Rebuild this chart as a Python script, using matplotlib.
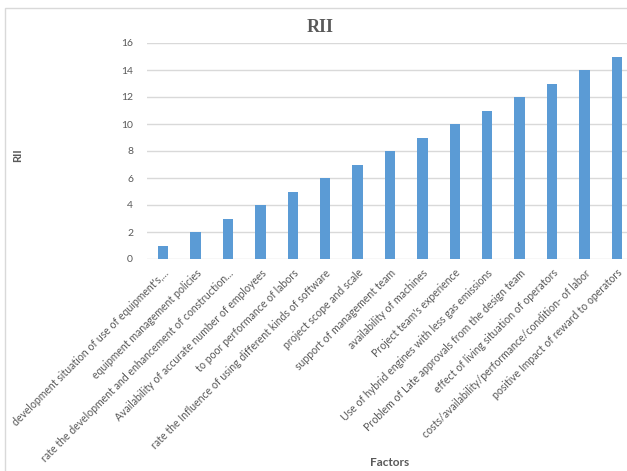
import matplotlib
matplotlib.use("Agg")
import matplotlib.pyplot as plt
from matplotlib.patches import Rectangle

factors = [
    "development situation of use of equipment's,...",
    "equipment management policies",
    "rate the development and enhancement of construction...",
    "Availability of accurate number of employees",
    "to poor performance of labors",
    "rate the Influence of using different kinds of software",
    "project scope and scale",
    "support of management team",
    "availability of machines",
    "Project team's experience",
    "Use of hybrid engines with less gas emissions",
    "Problem of Late approvals from the design team",
    "effect of living situation of operators",
    "costs/availability/performance/condition- of labor",
    "positive Impact of reward to operators",
]
rii = [1, 2, 3, 4, 5, 6, 7, 8, 9, 10, 11, 12, 13, 14, 15]
yticks = [0, 2, 4, 6, 8, 10, 12, 14, 16]

W, H = 627, 471
fig = plt.figure(figsize=(W / 100, H / 100), dpi=100)
fig.patch.set_facecolor("white")

# chart frame
fig.patches.append(Rectangle((5 / W, -0.01), 1.0, 1 - 8 / H + 0.01,
                             transform=fig.transFigure, fill=False,
                             edgecolor="#D9D9D9", lw=1.0))

ax = fig.add_axes([147 / W, 1 - 259 / H, (633 - 147) / W, (259 - 43) / H])
x = range(len(factors))
ax.bar(x, rii, width=0.32, color="#5B9BD5", zorder=3)
ax.set_xlim(-0.5, len(factors) - 0.5)
ax.set_ylim(0, 16)
ax.set_yticks(yticks)
ax.set_yticklabels([str(v) for v in yticks], fontsize=7.5, color="#595959",
                   family="Lato")
ax.set_xticks(list(x))
ax.set_xticklabels(factors, rotation=45, ha="right", rotation_mode="anchor",
                   fontsize=7.6, color="#595959", family="Lato")
ax.tick_params(axis="both", length=0)
ax.tick_params(axis="y", pad=10)
ax.tick_params(axis="x", pad=6)
for s in ax.spines.values():
    s.set_visible(False)
ax.grid(axis="y", color="#D9D9D9", lw=1.0, zorder=0)
ax.set_axisbelow(True)

fig.text(320 / W, 1 - 28 / H, "RII", ha="center", va="center",
         fontsize=13, fontweight="bold", color="#595959", family="Liberation Serif")
fig.text(18 / W, 1 - 155 / H, "RII", ha="center", va="center", rotation=90,
         fontsize=8, fontweight="bold", color="#595959", family="Lato")
fig.text(390 / W, 1 - 462 / H, "Factors", ha="center", va="center",
         fontsize=8.5, fontweight="bold", color="#595959", family="Lato")

fig.savefig("out.png", dpi=100)
